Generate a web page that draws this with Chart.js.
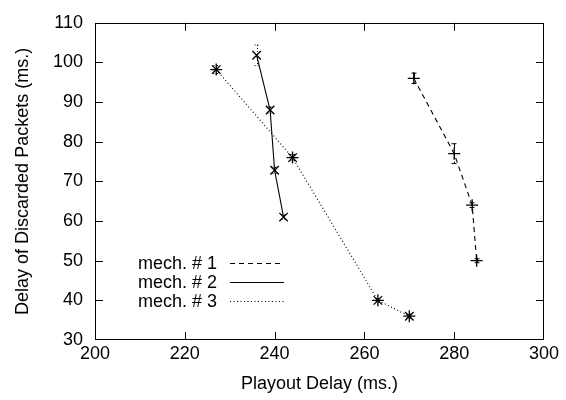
<!DOCTYPE html>
<html>
<head>
<meta charset="utf-8">
<script src="https://cdn.jsdelivr.net/npm/chart.js@4/dist/chart.umd.min.js"></script>
<style>
  html, body { margin: 0; padding: 0; background: #fff; }
  #wrap { width: 566px; height: 400px; position: relative; }
</style>
</head>
<body>
<div id="wrap"><canvas id="c" width="566" height="400"></canvas></div>
<script>
// Playout delay (x) vs. delay of discarded packets (y) for three mechanisms
const seriesNames = ['mech. # 1', 'mech. # 2', 'mech. # 3'];

const mech1X = [271, 280, 284, 285];
const mech1Y = [96, 77, 64, 50];
const mech1Err = [1.3, 2.5, 0.6, 0.5];

const mech2X = [236, 239, 240, 242];
const mech2Y = [101.8, 88, 72.8, 61];
const mech2Err = [2.6, 0.8, 0.8, 0.6];

const mech3X = [227, 244, 263, 270];
const mech3Y = [98.2, 76, 40, 36];
const mech3Err = [1.0, 0.8, 0.5, 0.5];

const xTicks = [200, 220, 240, 260, 280, 300];
const yTicks = [30, 40, 50, 60, 70, 80, 90, 100, 110];

const FONT = 'Liberation Sans, Arial, Helvetica, sans-serif';
const FS = 18;

function pts(xs, ys) { return xs.map((x, i) => ({ x, y: ys[i] })); }

const dashes = [[5, 4], [], [1, 2.5]];
const errs = [mech1Err, mech2Err, mech3Err];

// Frame ticks (inward, mirrored), error bars and the in-plot key
const decorations = {
  id: 'decorations',
  afterDatasetsDraw(chart) {
    const { ctx, chartArea: a, scales: { x, y } } = chart;
    ctx.save();
    ctx.strokeStyle = '#000';
    ctx.lineWidth = 1;
    ctx.setLineDash([]);
    ctx.strokeRect(Math.round(a.left) + 0.5, Math.round(a.top) + 0.5,
                   Math.round(a.right - a.left) - 1, Math.round(a.bottom - a.top) - 1);
    const tl = 8;
    ctx.beginPath();
    xTicks.forEach(v => {
      const px = Math.round(x.getPixelForValue(v)) + 0.5;
      if (v !== xTicks[0] && v !== xTicks[xTicks.length - 1]) {
        ctx.moveTo(px, a.bottom); ctx.lineTo(px, a.bottom - tl);
        ctx.moveTo(px, a.top); ctx.lineTo(px, a.top + tl);
      }
    });
    yTicks.forEach(v => {
      const py = Math.round(y.getPixelForValue(v)) + 0.5;
      if (v !== yTicks[0] && v !== yTicks[yTicks.length - 1]) {
        ctx.moveTo(a.left, py); ctx.lineTo(a.left + tl, py);
        ctx.moveTo(a.right, py); ctx.lineTo(a.right - tl, py);
      }
    });
    ctx.stroke();

    // error bars with small caps
    chart.data.datasets.forEach((ds, di) => {
      ctx.setLineDash(di === 1 ? [1, 2] : dashes[di]);
      ctx.beginPath();
      ds.data.forEach((p, i) => {
        const e = errs[di][i];
        const px = Math.round(x.getPixelForValue(p.x)) + 0.5;
        const y1 = y.getPixelForValue(p.y + e);
        const y2 = y.getPixelForValue(p.y - e);
        ctx.moveTo(px, y1); ctx.lineTo(px, y2);
        ctx.moveTo(px - 3, y1); ctx.lineTo(px + 3, y1);
        ctx.moveTo(px - 3, y2); ctx.lineTo(px + 3, y2);
      });
      ctx.stroke();
    });

    // key
    ctx.font = FS + 'px ' + FONT;
    ctx.fillStyle = '#000';
    ctx.textAlign = 'right';
    ctx.textBaseline = 'middle';
    const keyY = [263, 282, 301];
    seriesNames.forEach((n, i) => {
      ctx.fillText(n, 217, keyY[i] + 1);
      ctx.setLineDash(dashes[i]);
      ctx.beginPath();
      ctx.moveTo(230, keyY[i] + 0.5);
      ctx.lineTo(284, keyY[i] + 0.5);
      ctx.stroke();
    });
    ctx.restore();
  }
};

const common = {
  showLine: true,
  borderColor: '#000',
  backgroundColor: '#000',
  borderWidth: 1.1,
  pointRadius: 6,
  pointHoverRadius: 6,
  pointBorderWidth: 1.3,
  pointBorderColor: '#000',
  pointBackgroundColor: '#000',
  clip: false,
  tension: 0
};

new Chart(document.getElementById('c'), {
  type: 'scatter',
  data: {
    datasets: [
      Object.assign({ label: seriesNames[0], data: pts(mech1X, mech1Y), borderDash: dashes[0], pointStyle: 'cross' }, common),
      Object.assign({ label: seriesNames[1], data: pts(mech2X, mech2Y), borderDash: dashes[1], pointStyle: 'crossRot' }, common),
      Object.assign({ label: seriesNames[2], data: pts(mech3X, mech3Y), borderDash: dashes[2], pointStyle: 'star' }, common)
    ]
  },
  options: {
    responsive: false,
    animation: false,
    events: [],
    layout: { padding: { left: 0, right: 22, top: 17, bottom: 0 } },
    plugins: { legend: { display: false }, tooltip: { enabled: false } },
    scales: {
      x: {
        type: 'linear', min: 200, max: 300,
        afterBuildTicks: s => { s.ticks = xTicks.map(v => ({ value: v })); },
        afterFit: s => { s.height = 60; },
        grid: { display: false, drawTicks: false },
        border: { display: false },
        ticks: { color: '#000', font: { family: FONT, size: FS }, padding: 3, maxRotation: 0 },
        title: { display: true, text: 'Playout Delay (ms.)', color: '#000',
                 font: { family: FONT, size: FS }, padding: { top: 0, bottom: 5 } }
      },
      y: {
        type: 'linear', min: 30, max: 110,
        afterBuildTicks: s => { s.ticks = yTicks.map(v => ({ value: v })); },
        afterFit: s => { s.width = 95; },
        grid: { display: false, drawTicks: false },
        border: { display: false },
        ticks: { color: '#000', font: { family: FONT, size: FS }, padding: 12 },
        title: { display: true, text: 'Delay of Discarded Packets (ms.)', color: '#000',
                 font: { family: FONT, size: FS }, padding: { top: 12, bottom: 0 } }
      }
    }
  },
  plugins: [decorations]
});
</script>
</body>
</html>
